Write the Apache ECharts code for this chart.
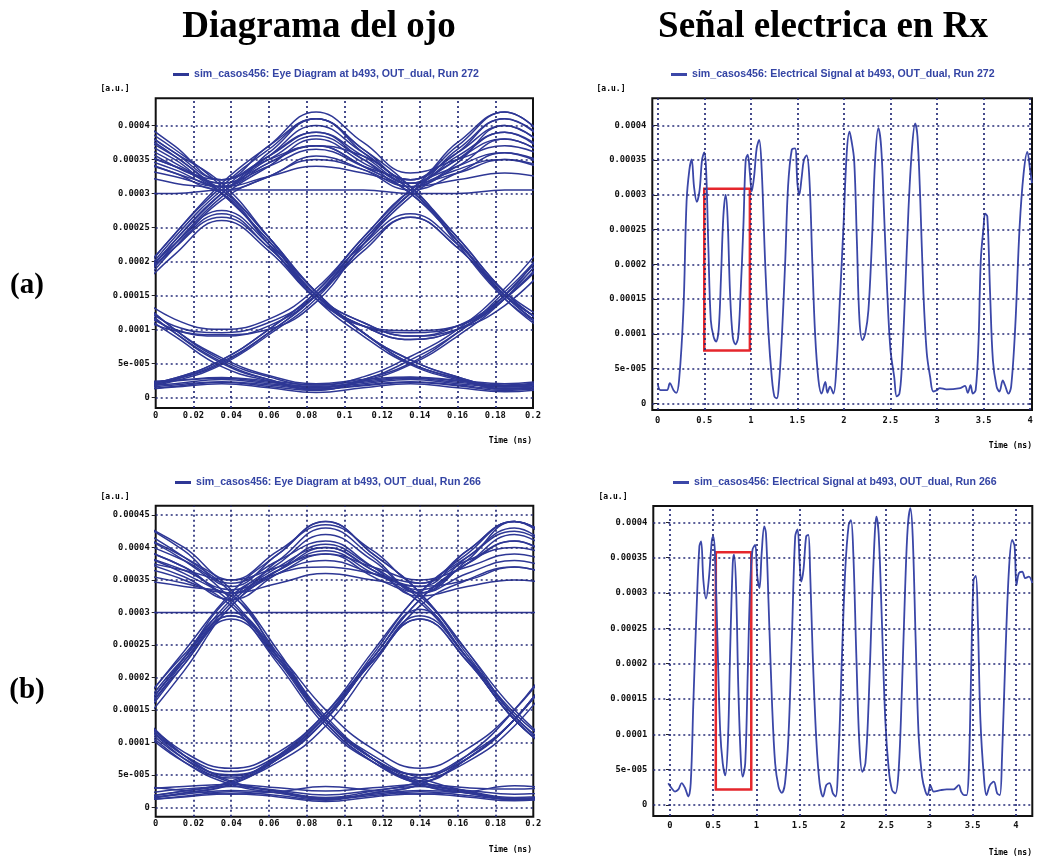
<!DOCTYPE html>
<html><head><meta charset="utf-8">
<script src="https://cdn.jsdelivr.net/npm/echarts@6/dist/echarts.min.js"></script>
<style>html,body{margin:0;padding:0;background:#fff}#c{width:1037px;height:858px}</style>
</head><body><div id="c"></div>
<script>
// ---- data (amplitudes in units of 1e-5 a.u.) ----
const yTickValues = [0, 5, 10, 15, 20, 25, 30, 35, 40, 45];
const yTickLabels = ['0', '5e-005', '0.0001', '0.00015', '0.0002', '0.00025', '0.0003', '0.00035', '0.0004', '0.00045'];
const eyeXTicks = [0, 0.02, 0.04, 0.06, 0.08, 0.1, 0.12, 0.14, 0.16, 0.18, 0.2];
const sigXTicks = [0, 0.5, 1, 1.5, 2, 2.5, 3, 3.5, 4];

const nameEyeA = 'sim_casos456: Eye Diagram at b493, OUT_dual, Run 272';
const nameEyeB = 'sim_casos456: Eye Diagram at b493, OUT_dual, Run 266';
const nameSigA = 'sim_casos456: Electrical Signal at b493, OUT_dual, Run 272';
const nameSigB = 'sim_casos456: Electrical Signal at b493, OUT_dual, Run 266';

// eye diagram (a): sample times (ns) and traces
const eyeA_t = [-0.015, 0.01, 0.035, 0.06, 0.085, 0.11, 0.135, 0.16, 0.185, 0.21];
const eyeA_traces = [
  [39, 35, 31, 36, 41, 36.5, 32, 36, 40, 36],
  [36, 33.5, 31, 34.5, 37, 34, 30, 23, 15, 9.5],
  [40, 35.5, 30, 23, 15, 11, 9, 10.5, 15, 22],
  [38, 34.5, 30, 23, 15, 9.5, 5, 2.8, 1.2, 1.6],
  [14, 10, 9, 10.5, 15, 23, 30, 35, 38, 35],
  [15.5, 10.5, 9.5, 11, 15, 21.5, 26.5, 22, 15, 10.5],
  [15, 9.5, 5, 2.6, 1.5, 2.6, 5.5, 9.5, 15, 23],
  [14.5, 9.5, 5.2, 2.6, 1.2, 1.7, 2.2, 1.7, 1.0, 1.5],
  [15, 23, 30, 35.5, 40, 36, 32, 37, 42, 37],
  [14.5, 23, 30, 34.5, 37, 34, 30, 23, 15, 9.5],
  [15, 22, 26.5, 22, 15, 11, 9, 10, 13.5, 20],
  [15, 22, 27, 22, 15, 9.5, 5, 2.8, 1.2, 1.6],
  [1.2, 2.6, 5, 9.5, 15, 23, 30, 35, 39, 35],
  [1.0, 2.6, 5.2, 9.5, 15, 22, 26.5, 22, 15, 10.5],
  [1.0, 1.6, 2.2, 1.6, 1.0, 2.6, 5, 9.5, 15, 23],
  [1.2, 1.8, 2.3, 1.8, 1.2, 1.8, 2.3, 1.8, 1.2, 1.8],
  [34, 32.5, 31, 32.5, 34, 33, 31.5, 33, 35, 33],
  [14, 22, 29, 32.5, 35, 33.5, 31, 34, 38, 35],
  [41, 36, 32, 37, 41, 36, 30.5, 23.5, 15.5, 10],
  [1.5, 2.8, 5.5, 10, 15.5, 23.5, 30.5, 36, 41, 37],
  [41, 36.5, 31, 23.5, 15.5, 9.5, 5.5, 3, 1.5, 2],
  [15.5, 24, 31, 36.5, 41, 36.5, 31, 23.5, 15.5, 10],
  [1.5, 2, 2.6, 2, 1.4, 2, 2.6, 2, 1.5, 2],
  [35, 33, 30, 22.5, 14.5, 10.5, 8.5, 10, 14.5, 21.5],
  [16, 11.5, 10, 11.5, 16, 23.5, 30.5, 34, 36, 34],
  [14, 21, 26, 21.5, 14.5, 10.5, 8.5, 10, 14.5, 21.5],
  [16, 10, 5.5, 3, 1.8, 3, 6, 10, 16, 24],
  [16, 24, 31.5, 37, 42, 37.5, 33, 35, 37, 35],
  [42, 37, 32, 35, 37, 35.5, 32, 37.5, 42, 37],
  [30, 30, 30.5, 30.5, 30.5, 30.5, 30, 30, 30.5, 30.5],
  [37, 34, 32, 35.5, 39, 35, 31, 32, 33, 32],
  [2, 2.4, 2.8, 2.2, 1.6, 2.2, 2.8, 2.2, 1.7, 2.2],
  [13.5, 9, 4.5, 2.4, 1.1, 2.4, 4.8, 9, 14.5, 22.5],
  [38, 34, 30.5, 23.5, 15.5, 10.5, 9.5, 10.5, 14.5, 21],
  [12.5, 9.8, 9.2, 10, 14, 22.5, 29.5, 34.5, 40, 36],
  [39.5, 35.5, 31.5, 35, 38.5, 35, 31.5, 35.5, 39, 35.5],
  [35.5, 33, 30.5, 32.5, 35.5, 33.5, 30.5, 33, 36, 33.5],
  [14.5, 22.5, 29.5, 34, 38, 34.5, 30.5, 23, 14.5, 9],
  [15.5, 22.5, 27.5, 22.5, 15.5, 9.5, 5.5, 3, 1.6, 2],
  [1.4, 2.8, 5.5, 10, 15.5, 22.5, 27, 22.5, 15.5, 11],
  [16, 10, 5.8, 3.2, 2, 2.6, 3, 2.5, 2, 2.6],
  [40.5, 36, 31.5, 23.5, 15, 10.5, 9.8, 10.5, 15.5, 23],
  [33, 31.5, 30, 22.5, 14.5, 9, 4.8, 2.6, 1.3, 1.7],
  [1.1, 2.4, 4.8, 9.2, 14.5, 22.5, 30, 33.5, 35, 33.5],
  [36.5, 34, 31.5, 34, 36.5, 34, 31, 22.5, 14.5, 9.5],
  [15, 23.5, 30.5, 35.5, 39, 35.5, 31.5, 36.5, 41, 36.5],
  [2.2, 2.5, 2.9, 2.4, 1.8, 2.4, 2.9, 2.4, 1.8, 2.4],
  [0.9, 1.5, 2.0, 1.4, 0.7, 1.4, 2.0, 1.4, 0.8, 1.4]
];

// eye diagram (b)
const eyeB_t = [-0.01, 0.015, 0.04, 0.065, 0.09, 0.115, 0.14, 0.165, 0.19, 0.215];
const eyeB_traces = [
  [40, 37, 33, 38, 43, 38.5, 33, 38.5, 43, 38],
  [38, 35.5, 32, 36, 39, 35.5, 31.5, 23, 13.5, 7.5],
  [42, 38, 32, 23, 13.5, 7.5, 5, 7.5, 13.5, 22.5],
  [39, 36, 31.5, 22.5, 13, 7, 3.5, 2.2, 1.2, 1.7],
  [13.5, 7.5, 5, 7.5, 13.5, 23, 32, 37.5, 41, 37],
  [14, 8, 5.5, 8, 14, 22.5, 29, 22.5, 13.5, 7.5],
  [13, 7, 3.5, 2.2, 1.2, 2.2, 3.5, 7.5, 13.5, 23],
  [14, 7.5, 3.8, 2.4, 1.3, 1.8, 2.4, 1.8, 1.2, 1.8],
  [13.5, 23, 32, 37.5, 42, 38, 33, 38, 44, 39],
  [13, 22.5, 31.5, 37, 40, 36.5, 32, 23, 13.5, 7.5],
  [13.5, 22.5, 29, 22.5, 13.5, 8, 5, 8, 13.5, 22.5],
  [14, 23, 29.5, 23, 14, 7.5, 3.5, 2.2, 1.2, 1.7],
  [1.2, 2.2, 3.5, 7.5, 13.5, 23, 32, 37.5, 42, 38],
  [1.0, 2.2, 3.6, 7.5, 13.5, 22.5, 29, 22.5, 13.5, 7.5],
  [1.0, 1.7, 2.4, 1.8, 1.1, 2.2, 3.5, 7.5, 13.5, 23],
  [1.3, 2.0, 2.6, 2.2, 1.4, 2.0, 2.6, 2.2, 1.3, 2.0],
  [36, 34.5, 33, 34.5, 36, 35, 34, 35, 37, 35],
  [30, 30, 30, 30, 30, 30, 30, 30, 30, 30],
  [12, 21, 31, 36, 38, 36, 34, 39.5, 44, 40],
  [44, 39.5, 34, 39, 44, 39, 33, 24, 14, 8],
  [1.5, 2.5, 4, 8, 14.5, 24, 33, 39, 44, 40],
  [43, 38.5, 33, 23.5, 13.5, 7.5, 4, 2.5, 1.5, 2],
  [2.8, 3.2, 3.5, 3, 2.5, 3, 3.5, 3, 2.8, 3.2],
  [15, 24, 33, 39, 44, 39, 33, 24, 15, 8.5],
  [37, 35, 31, 22, 12.5, 7, 4.5, 7, 12.5, 21.5],
  [12.5, 7, 4.5, 7, 12.5, 22, 31, 35, 37, 35],
  [15, 23.5, 30, 23.5, 15, 9, 6, 9, 15, 24],
  [15, 8, 4, 2.5, 1.5, 2.5, 4, 8, 15, 24.5],
  [38, 36.5, 35, 37, 39, 37, 35, 37, 39, 37],
  [3.3, 2.6, 2.0, 2.4, 3.2, 2.6, 2.0, 2.4, 3.3, 2.6],
  [41, 38, 34.5, 38, 41, 37, 32.5, 34, 35, 34],
  [42, 38.5, 33.5, 24, 13.5, 7.5, 4.5, 2.5, 1.3, 1.8],
  [12.5, 22, 31, 36.5, 40.5, 37, 33.5, 37.5, 41, 37.5],
  [39, 36.5, 33.5, 36.5, 40, 36.5, 33, 36, 38, 36],
  [13, 22, 29.5, 23, 13.5, 7.5, 4, 7.5, 13.5, 23],
  [14.5, 8, 4.8, 7.8, 14, 23.5, 33, 38.5, 42.5, 38.5],
  [1.5, 2.5, 3.8, 7.8, 14, 22.5, 29.5, 23, 14, 7.8],
  [40, 37, 33, 36.5, 39.5, 36, 32.5, 23.5, 14, 8],
  [35, 34, 32.5, 23, 13, 7, 3.8, 2.3, 1.3, 1.8],
  [2.0, 2.8, 3.2, 2.6, 1.9, 2.6, 3.2, 2.6, 2.0, 2.6],
  [1.0, 1.6, 2.1, 1.6, 0.9, 1.6, 2.1, 1.6, 1.0, 1.6],
  [13.5, 23, 32.5, 36, 37, 36, 34.5, 38, 40, 38],
  [44, 40, 35, 39.5, 43.5, 39.5, 34.5, 39.5, 44, 40],
  [14.5, 8.5, 6, 8.5, 14.5, 23, 30.5, 23, 14.5, 8.5]
];

// electrical signal (a)
const sigA_t = [0, 0.03, 0.1, 0.13, 0.17, 0.2, 0.23, 0.276, 0.31, 0.34, 0.365, 0.39, 0.42, 0.45, 0.476, 0.5, 0.52, 0.544, 0.57, 0.6, 0.627, 0.655, 0.68, 0.705, 0.73, 0.75, 0.777, 0.806, 0.834, 0.863, 0.89, 0.92, 0.945, 0.967, 0.99, 1.01, 1.035, 1.063, 1.09, 1.117, 1.153, 1.19, 1.225, 1.253, 1.28, 1.3, 1.33, 1.37, 1.4, 1.44, 1.475, 1.5, 1.52, 1.547, 1.57, 1.6, 1.63, 1.66, 1.69, 1.726, 1.76, 1.8, 1.823, 1.85, 1.887, 1.92, 1.96, 1.995, 2.03, 2.06, 2.08, 2.11, 2.14, 2.167, 2.2, 2.23, 2.263, 2.3, 2.335, 2.37, 2.4, 2.43, 2.466, 2.5, 2.54, 2.567, 2.596, 2.62, 2.657, 2.693, 2.73, 2.765, 2.79, 2.82, 2.854, 2.89, 2.926, 2.96, 3.0, 3.03, 3.1, 3.25, 3.3, 3.33, 3.36, 3.385, 3.415, 3.445, 3.47, 3.5, 3.516, 3.54, 3.57, 3.6, 3.64, 3.67, 3.706, 3.73, 3.767, 3.796, 3.84, 3.887, 3.93, 3.97, 4.0, 4.02];
const sigA_v = [2.9, 1.9, 1.9, 2.9, 1.9, 1.5, 3.4, 13.4, 29, 33.6, 35.1, 31.2, 29, 30.7, 35, 36.1, 33.6, 22.5, 12, 9.6, 8.9, 10.6, 18.2, 26.9, 30, 26.9, 15.8, 9.6, 8.5, 9.4, 15.8, 25.4, 35, 35.8, 33.1, 30.5, 32.6, 36.7, 37.9, 33.6, 20.6, 10.1, 3.8, 1.0, 0.7, 2.4, 8.6, 20.6, 31.2, 36.5, 36.7, 31.7, 30, 32.6, 35, 35.7, 32.1, 20.6, 10.1, 3.4, 1.4, 3.1, 1.5, 2.4, 1.4, 5.3, 15.8, 25.4, 36, 39.1, 37.9, 35, 23, 12, 9.1, 10.1, 13.4, 23, 35, 39.6, 36.9, 27.8, 15.8, 7.7, 3.8, 1.0, 1.4, 4.8, 15.8, 27.8, 36.5, 40.3, 38.4, 29.3, 15.8, 7.2, 3.8, 1.7, 1.9, 2.2, 2.0, 2.2, 2.5, 1.5, 2.6, 1.4, 1.9, 8.6, 20.6, 25.4, 27.3, 26.9, 15.8, 6.2, 2.4, 1.7, 3.3, 2.6, 1.4, 2.4, 11, 25.4, 33.1, 36.2, 33.6, 31.7];

// electrical signal (b)
const sigB_t = [-0.02, 0.02, 0.058, 0.097, 0.135, 0.174, 0.212, 0.24, 0.27, 0.31, 0.34, 0.36, 0.386, 0.417, 0.448, 0.483, 0.5, 0.52, 0.548, 0.58, 0.61, 0.64, 0.672, 0.695, 0.726, 0.741, 0.764, 0.79, 0.818, 0.84, 0.87, 0.9, 0.927, 0.954, 0.985, 1.01, 1.035, 1.06, 1.09, 1.11, 1.14, 1.18, 1.216, 1.255, 1.293, 1.33, 1.37, 1.41, 1.448, 1.475, 1.5, 1.517, 1.544, 1.575, 1.6, 1.62, 1.65, 1.69, 1.73, 1.77, 1.807, 1.845, 1.884, 1.915, 1.95, 1.99, 2.027, 2.066, 2.093, 2.12, 2.154, 2.19, 2.224, 2.26, 2.297, 2.336, 2.367, 2.386, 2.413, 2.45, 2.49, 2.53, 2.568, 2.606, 2.645, 2.683, 2.72, 2.75, 2.78, 2.807, 2.84, 2.876, 2.915, 2.954, 2.98, 3.01, 3.05, 3.13, 3.2, 3.28, 3.34, 3.367, 3.4, 3.43, 3.456, 3.483, 3.51, 3.537, 3.56, 3.59, 3.63, 3.66, 3.7, 3.745, 3.784, 3.815, 3.84, 3.88, 3.92, 3.957, 3.985, 4.007, 4.035, 4.073, 4.11, 4.15, 4.19];
const sigB_v = [3.07, 2.36, 1.9, 2.2, 3.1, 2.4, 1.2, 3.1, 14.4, 28.5, 36.6, 37.3, 31.8, 29.2, 31.8, 37.3, 38, 35.6, 23.8, 10.6, 5.9, 4.2, 9.7, 21.5, 34.2, 35.4, 30.9, 16.7, 6.8, 4.0, 5.9, 19.1, 30.9, 36.1, 36.8, 32.3, 30.7, 35.6, 39.4, 38.4, 28.5, 14.4, 5.9, 2.6, 1.7, 3.1, 9.7, 23.8, 38, 39, 34.2, 31.6, 33.3, 38, 38.2, 33.3, 21.5, 9.7, 3.1, 1.2, 2.8, 3.1, 1.65, 1.2, 7.3, 21.5, 33.3, 39.6, 40.3, 35.6, 21.5, 8.7, 4.7, 5.9, 14.4, 28.5, 38, 40.8, 38.4, 26.2, 12, 5, 2.1, 1.65, 5, 16.7, 30.9, 39.4, 42, 38, 23.8, 9.7, 4.0, 1.9, 1.4, 2.8, 1.9, 2.1, 2.2, 2.2, 2.8, 1.9, 1.4, 1.4, 5, 19.1, 31.8, 32.4, 26.2, 12, 4.0, 1.4, 2.8, 3.3, 1.65, 1.4, 6.8, 21.5, 33.3, 37.5, 36.6, 31.1, 32.8, 33, 32.1, 32.3, 31.4];

// highlighted windows [tStart, tEnd, vLow, vHigh]
const redBoxA = [0.5, 0.99, 7.6, 30.9];
const redBoxB = [0.53, 0.94, 2.2, 35.75];

// ---- chart ----
const TRACE = '#2e3795';
const SIG = '#3b47a8';
const GRIDC = '#262c78';
const TXT = '#3444a4';
const monoLab = {fontFamily: 'DejaVu Sans Mono', fontWeight: 'bold', fontSize: 8.8, color: '#111'};

const panels = [
  {grid: {left: 155.7, top: 98.3, width: 377.3, height: 309.7}, x: [0, 0.2], y: [-1.58, 44.0], xt: eyeXTicks, xm: 3},
  {grid: {left: 652.3, top: 98.3, width: 379.7, height: 311.7}, x: [-0.058, 4.02], y: [-0.96, 43.9], xt: sigXTicks, xm: 6},
  {grid: {left: 155.7, top: 505.7, width: 377.6, height: 311}, x: [0, 0.2], y: [-1.45, 46.43], xt: eyeXTicks, xm: 3},
  {grid: {left: 653.3, top: 506, width: 379, height: 310}, x: [-0.193, 4.19], y: [-1.56, 42.3], xt: sigXTicks, xm: 5}
];

function yLab(v) {
  const i = yTickValues.indexOf(Math.round(v));
  return i >= 0 ? yTickLabels[i] : '';
}

const grids = [], xAxes = [], yAxes = [], series = [];
panels.forEach((p, k) => {
  grids.push(Object.assign({show: true, borderColor: '#111', borderWidth: 2, backgroundColor: '#fff'}, p.grid));
  const yIn = yTickValues.filter(v => v >= p.y[0] && v <= p.y[1]);
  const xIn = p.xt.filter(v => v >= p.x[0] && v <= p.x[1] + 1e-9);
  xAxes.push({type: 'value', gridIndex: k, min: p.x[0], max: p.x[1],
    axisLine: {show: false}, splitLine: {show: false},
    axisTick: {show: false},
    axisLabel: {customValues: xIn, margin: p.xm, showMinLabel: true, showMaxLabel: true, ...monoLab,
      formatter: v => String(Math.round(v * 1000) / 1000)}});
  yAxes.push({type: 'value', gridIndex: k, min: p.y[0], max: p.y[1],
    axisLine: {show: false}, splitLine: {show: false},
    axisTick: {show: true, customValues: yIn, length: 4, inside: false, lineStyle: {color: '#222', width: 1}},
    axisLabel: {customValues: yIn, margin: 6, ...monoLab, formatter: yLab}});
  // grid lines drawn as dotted reference lines at the tick values
  series.push({type: 'line', xAxisIndex: k, yAxisIndex: k, data: [], silent: true, z: 1,
    markLine: {silent: true, symbol: 'none', animation: false, label: {show: false},
      lineStyle: {type: [2, 3], color: GRIDC, width: 1.7},
      data: yIn.filter(v => v > p.y[0] + 0.5).map(v => ({yAxis: v}))
        .concat(xIn.filter(v => v > p.x[0] + 1e-6 && v < p.x[1] - 1e-6).map(v => ({xAxis: v})))}});
});

eyeA_traces.forEach(tr => series.push({
  type: 'line', name: nameEyeA, xAxisIndex: 0, yAxisIndex: 0, smooth: 0.45, symbol: 'none', clip: true, z: 3,
  color: TRACE, lineStyle: {width: 1.5, color: TRACE}, data: eyeA_t.map((t, i) => [t, tr[i]])
}));
eyeB_traces.forEach(tr => series.push({
  type: 'line', name: nameEyeB, xAxisIndex: 2, yAxisIndex: 2, smooth: 0.45, symbol: 'none', clip: true, z: 3,
  color: TRACE, lineStyle: {width: 1.5, color: TRACE}, data: eyeB_t.map((t, i) => [t, tr[i]])
}));
function boxArea(b) {
  return {silent: true, itemStyle: {color: 'rgba(0,0,0,0)', borderColor: '#e5262c', borderWidth: 2.5},
    data: [[{coord: [b[0], b[3]]}, {coord: [b[1], b[2]]}]]};
}
series.push({type: 'line', name: nameSigA, xAxisIndex: 1, yAxisIndex: 1, smooth: 0.35, symbol: 'none', clip: true, z: 3,
  color: SIG, lineStyle: {width: 1.8, color: SIG}, data: sigA_t.map((t, i) => [t, sigA_v[i]]), markArea: boxArea(redBoxA)});
series.push({type: 'line', name: nameSigB, xAxisIndex: 3, yAxisIndex: 3, smooth: 0.35, symbol: 'none', clip: true, z: 3,
  color: SIG, lineStyle: {width: 1.8, color: SIG}, data: sigB_t.map((t, i) => [t, sigB_v[i]]), markArea: boxArea(redBoxB)});

const legTxt = {fontFamily: 'Liberation Sans', fontSize: 10.6, color: TXT, fontWeight: 'bold'};
function leg(name, left, top) {
  return {data: [name], left: left, top: top, icon: 'rect', itemWidth: 16, itemHeight: 3, itemGap: 4,
    textStyle: legTxt, selectedMode: false, padding: 0};
}

function txt(x, y, s, font, align, fill) {
  return {type: 'text', x: x, y: y, silent: true, style: {text: s, font: font, textAlign: align || 'center', textVerticalAlign: 'middle', fill: fill || '#000'}};
}
const small = 'bold 8px "DejaVu Sans Mono"';
const big = 'bold 37px "Liberation Serif"';

const option = {
  animation: false,
  backgroundColor: '#fff',
  grid: grids, xAxis: xAxes, yAxis: yAxes, series: series,
  legend: [leg(nameEyeA, 173, 69), leg(nameSigA, 671, 69), leg(nameEyeB, 175, 477), leg(nameSigB, 673, 477)],
  graphic: [
    txt(319, 27.5, 'Diagrama del ojo', big),
    txt(823, 27.5, 'Señal electrica en Rx', big),
    txt(27, 286, '(a)', 'bold 29px "Liberation Serif"'),
    txt(27, 691, '(b)', 'bold 29px "Liberation Serif"'),
    txt(115, 89, '[a.u.]', small),
    txt(611, 89, '[a.u.]', small),
    txt(115, 497, '[a.u.]', small),
    txt(613, 497, '[a.u.]', small),
    txt(532, 441, 'Time (ns)', small, 'right'),
    txt(1032, 446, 'Time (ns)', small, 'right'),
    txt(532, 850, 'Time (ns)', small, 'right'),
    txt(1032, 853, 'Time (ns)', small, 'right')
  ]
};
echarts.init(document.getElementById('c'), null, {renderer: 'canvas'}).setOption(option);
</script></body></html>
